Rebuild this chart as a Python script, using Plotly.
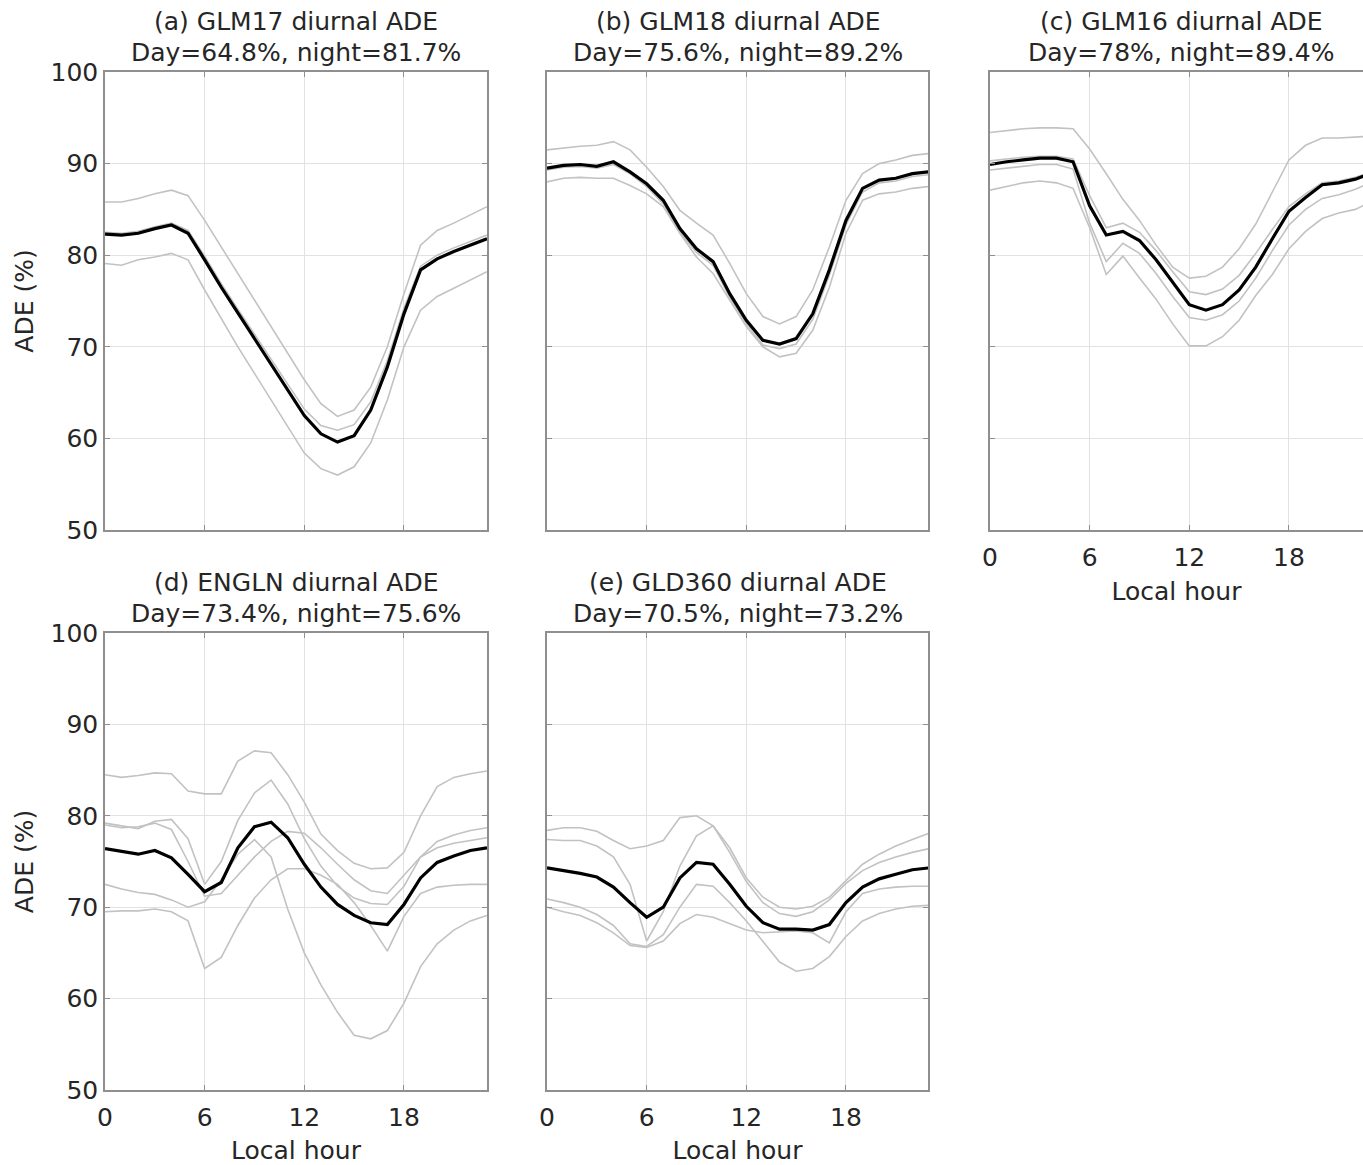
import plotly.graph_objects as go

# ---------------- data ----------------
hours = list(range(24))
x_ticks = [0, 6, 12, 18]
y_ticks = [50, 60, 70, 80, 90, 100]

titles = ["(a) GLM17 diurnal ADE", "(b) GLM18 diurnal ADE", "(c) GLM16 diurnal ADE",
          "(d) ENGLN diurnal ADE", "(e) GLD360 diurnal ADE"]
subtitles = ["Day=64.8%, night=81.7%", "Day=75.6%, night=89.2%", "Day=78%, night=89.4%",
             "Day=73.4%, night=75.6%", "Day=70.5%, night=73.2%"]

glm17_mean = [82.3, 82.2, 82.4, 82.9, 83.3, 82.4, 79.5, 76.5, 73.7, 70.9, 68.2, 65.3,
              62.5, 60.5, 59.6, 60.3, 63.1, 67.8, 73.6, 78.4, 79.6, 80.4, 81.1, 81.8]
glm17_r1 = [85.8, 85.8, 86.2, 86.7, 87.1, 86.5, 83.8, 80.9, 78.0, 75.1, 72.2, 69.3,
            66.4, 63.8, 62.4, 63.1, 65.6, 70.0, 75.8, 81.1, 82.7, 83.5, 84.4, 85.3]
glm17_r2 = [82.5, 82.4, 82.6, 83.1, 83.5, 82.7, 79.9, 76.9, 74.1, 71.4, 68.7, 65.9,
            63.2, 61.4, 60.9, 61.5, 64.0, 68.5, 74.2, 78.8, 80.0, 80.8, 81.5, 82.2]
glm17_r3 = [79.1, 78.9, 79.5, 79.8, 80.2, 79.5, 76.2, 73.1, 70.0, 67.1, 64.2, 61.3,
            58.4, 56.7, 56.0, 56.9, 59.5, 64.2, 70.0, 74.0, 75.5, 76.4, 77.3, 78.2]

glm18_mean = [89.5, 89.8, 89.9, 89.7, 90.2, 89.1, 87.8, 86.0, 82.9, 80.7, 79.3, 75.8,
              72.9, 70.7, 70.3, 70.9, 73.6, 78.4, 83.8, 87.3, 88.2, 88.4, 88.9, 89.1]
glm18_r1 = [91.5, 91.7, 91.9, 92.0, 92.4, 91.5, 89.6, 87.5, 84.9, 83.5, 82.2, 79.1,
            75.8, 73.3, 72.5, 73.3, 76.2, 80.9, 86.0, 88.9, 90.0, 90.4, 90.9, 91.1]
glm18_r2 = [89.3, 89.6, 89.7, 89.5, 89.9, 88.9, 87.5, 85.6, 82.5, 80.3, 78.9, 75.4,
            72.5, 70.2, 69.8, 70.3, 73.0, 77.8, 83.3, 86.9, 87.9, 88.1, 88.6, 88.8]
glm18_r3 = [88.0, 88.4, 88.5, 88.4, 88.4, 87.6, 86.7, 85.3, 82.4, 79.8, 78.0, 75.1,
            72.2, 70.0, 68.9, 69.3, 71.8, 76.5, 82.4, 86.0, 86.7, 86.9, 87.3, 87.5]

glm16_mean = [89.9, 90.2, 90.4, 90.6, 90.6, 90.2, 85.4, 82.2, 82.6, 81.6, 79.5, 77.0,
              74.6, 74.0, 74.6, 76.2, 78.7, 81.8, 84.8, 86.3, 87.7, 87.9, 88.3, 89.0]
glm16_r1 = [93.4, 93.6, 93.8, 93.9, 93.9, 93.8, 91.6, 88.9, 86.1, 83.8, 81.1, 78.7,
            77.5, 77.7, 78.7, 80.7, 83.4, 86.9, 90.4, 92.0, 92.8, 92.8, 92.9, 93.0]
glm16_r2 = [90.3, 90.5, 90.7, 90.8, 90.8, 90.5, 86.5, 83.0, 83.5, 82.5, 80.5, 78.2,
            76.0, 75.7, 76.3, 77.8, 80.2, 82.8, 85.3, 86.7, 87.9, 88.1, 88.5, 89.1]
glm16_r3 = [89.3, 89.5, 89.7, 89.9, 89.9, 89.4, 83.5, 79.3, 81.3, 80.2, 78.0, 75.5,
            73.2, 72.9, 73.5, 75.0, 77.5, 80.5, 83.3, 85.0, 86.2, 86.6, 87.2, 88.0]
glm16_r4 = [87.1, 87.5, 87.9, 88.1, 87.9, 87.3, 83.0, 77.9, 79.9, 77.5, 75.2, 72.5,
            70.1, 70.1, 71.1, 72.9, 75.6, 77.9, 80.7, 82.6, 84.0, 84.6, 85.0, 85.9]

engln_mean = [76.4, 76.1, 75.8, 76.2, 75.4, 73.6, 71.7, 72.7, 76.5, 78.8, 79.3, 77.6,
              74.7, 72.2, 70.3, 69.1, 68.3, 68.1, 70.3, 73.2, 74.9, 75.6, 76.2, 76.5]
engln_r1 = [84.5, 84.2, 84.4, 84.7, 84.6, 82.7, 82.4, 82.4, 86.0, 87.1, 86.9, 84.5,
            81.5, 78.0, 76.2, 74.8, 74.2, 74.3, 76.0, 80.0, 83.2, 84.2, 84.6, 84.9]
engln_r2 = [79.2, 78.9, 78.6, 79.4, 79.6, 77.5, 72.5, 75.0, 79.5, 82.5, 83.9, 81.3,
            77.5, 74.5, 72.3, 71.0, 70.4, 70.3, 72.3, 75.5, 77.2, 77.9, 78.4, 78.7]
engln_r3 = [79.0, 78.7, 78.8, 79.2, 78.5, 75.0, 71.2, 71.5, 73.5, 75.5, 77.2, 78.3,
            78.1, 76.5, 74.7, 73.0, 71.8, 71.5, 73.5, 75.5, 76.5, 77.0, 77.3, 77.6]
engln_r4 = [72.5, 72.0, 71.6, 71.4, 70.8, 70.0, 70.6, 73.0, 75.8, 77.4, 75.5, 69.8,
            65.0, 61.5, 58.5, 56.0, 55.6, 56.5, 59.5, 63.5, 66.0, 67.5, 68.5, 69.1]
engln_r5 = [69.5, 69.6, 69.6, 69.8, 69.5, 68.5, 63.3, 64.5, 68.0, 71.0, 73.0, 74.2,
            74.2, 73.5, 72.5, 70.5, 68.0, 65.2, 69.0, 71.5, 72.2, 72.4, 72.5, 72.5]

gld360_mean = [74.3, 74.0, 73.7, 73.3, 72.2, 70.5, 68.9, 70.0, 73.2, 74.9, 74.7, 72.5,
               70.1, 68.3, 67.6, 67.6, 67.5, 68.1, 70.5, 72.2, 73.1, 73.6, 74.1, 74.3]
gld360_r1 = [78.4, 78.7, 78.7, 78.3, 77.3, 76.4, 76.7, 77.3, 79.8, 80.0, 78.9, 76.5,
             73.2, 71.1, 70.0, 69.8, 70.1, 71.1, 72.9, 74.7, 75.8, 76.7, 77.4, 78.1]
gld360_r2 = [77.4, 77.3, 77.3, 76.7, 75.5, 72.5, 66.3, 69.5, 74.5, 77.8, 78.9, 76.0,
             72.8, 70.5, 69.3, 69.0, 69.5, 70.8, 72.6, 74.0, 74.9, 75.5, 76.0, 76.4]
gld360_r3 = [70.9, 70.5, 70.0, 69.2, 68.0, 66.0, 65.7, 67.0, 70.0, 72.5, 72.3, 70.5,
             68.5, 66.2, 64.0, 63.0, 63.3, 64.6, 66.8, 68.5, 69.3, 69.8, 70.1, 70.2]
gld360_r4 = [70.0, 69.5, 69.1, 68.3, 67.2, 65.8, 65.6, 66.3, 68.2, 69.2, 68.9, 68.2,
             67.5, 67.2, 67.3, 67.4, 67.2, 66.1, 69.5, 71.5, 72.0, 72.2, 72.3, 72.3]

means = [glm17_mean, glm18_mean, glm16_mean, engln_mean, gld360_mean]
regions = [[glm17_r1, glm17_r2, glm17_r3],
           [glm18_r1, glm18_r2, glm18_r3],
           [glm16_r1, glm16_r2, glm16_r3, glm16_r4],
           [engln_r1, engln_r2, engln_r3, engln_r4, engln_r5],
           [gld360_r1, gld360_r2, gld360_r3, gld360_r4]]

# ---------------- layout geometry (pixels) ----------------
W, H = 1363, 1165
PXH = 382.0 / 23.0  # pixels per hour
boxes = [  # x0, x1, ytop, ybottom
    (105, 487, 72, 530),
    (547, 928, 72, 530),
    (990, 1363, 72, 530),
    (105, 487, 633, 1090),
    (547, 928, 633, 1090),
]
show_xlabels = [False, False, True, True, True]
show_ylabels = [True, False, False, True, False]

FONT = "DejaVu Sans"
TXT = "#262626"
FRAME = "#8f8f8f"
GRID = "#e2e2e2"
GREY = "#c2c2c2"

fig = go.Figure()
layout = dict(width=W, height=H, margin=dict(l=0, r=0, t=0, b=0),
              paper_bgcolor="white", plot_bgcolor="white", showlegend=False,
              font=dict(family=FONT, size=25, color=TXT))
annotations = []

for i in range(5):
    k = "" if i == 0 else str(i + 1)
    x0, x1, yt, yb = boxes[i]
    xr = (x1 - x0) / PXH
    for reg in regions[i]:
        fig.add_trace(go.Scatter(x=hours, y=reg, mode="lines", xaxis="x" + k, yaxis="y" + k,
                                 line=dict(color=GREY, width=1.6), hoverinfo="skip"))
    fig.add_trace(go.Scatter(x=hours, y=means[i], mode="lines", xaxis="x" + k, yaxis="y" + k,
                             line=dict(color="black", width=3.2)))
    xa = dict(domain=[x0 / W, x1 / W], range=[0, xr], anchor="y" + k,
              tickvals=x_ticks, showgrid=True, gridcolor=GRID, gridwidth=1,
              zeroline=False, showline=True, linecolor=FRAME, linewidth=1.5,
              mirror="ticks", ticks="inside", ticklen=5, tickcolor=FRAME,
              showticklabels=show_xlabels[i], automargin=False, ticklabelstandoff=4,
              tickfont=dict(family=FONT, size=25, color=TXT))
    ya = dict(domain=[1 - yb / H, 1 - yt / H], range=[50, 100], anchor="x" + k,
              tickvals=y_ticks, showgrid=True, gridcolor=GRID, gridwidth=1,
              zeroline=False, showline=True, linecolor=FRAME, linewidth=1.5,
              mirror=("ticks" if i != 2 else False), ticks="inside", ticklen=5, tickcolor=FRAME,
              showticklabels=show_ylabels[i], automargin=False,
              tickfont=dict(family=FONT, size=25, color=TXT))
    if show_xlabels[i]:
        xa["title"] = dict(text="Local hour", font=dict(family=FONT, size=25, color=TXT), standoff=12)
    if show_ylabels[i]:
        ya["title"] = dict(text="ADE (%)", font=dict(family=FONT, size=25, color=TXT), standoff=10)
    layout["xaxis" + k] = xa
    layout["yaxis" + k] = ya
    cx = (x0 + x0 + 382) / 2.0
    annotations.append(dict(text=titles[i], x=cx / W, y=1 - (yt - 34) / H, xref="paper", yref="paper",
                            xanchor="center", yanchor="bottom", showarrow=False,
                            font=dict(family=FONT, size=25, color=TXT)))
    annotations.append(dict(text=subtitles[i], x=cx / W, y=1 - (yt - 3) / H, xref="paper", yref="paper",
                            xanchor="center", yanchor="bottom", showarrow=False,
                            font=dict(family=FONT, size=25, color=TXT)))

layout["annotations"] = annotations
fig.update_layout(**layout)
fig.write_html("out.html", config={"displayModeBar": False},
               post_script="document.body.style.margin='0px';document.body.style.overflow='hidden';")
